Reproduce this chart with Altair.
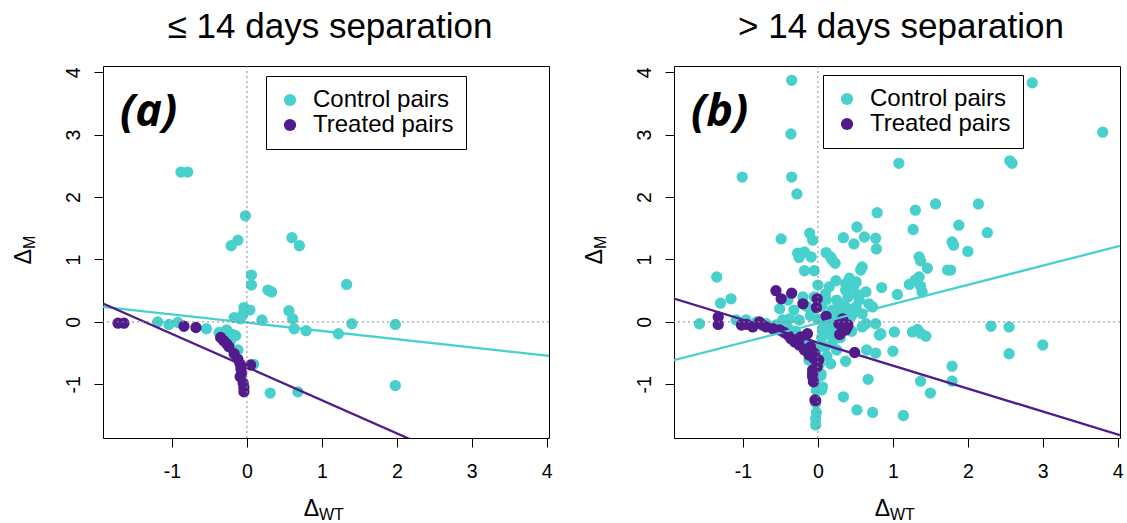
import altair as alt
import pandas as pd

# ---------------- data ----------------
SERIES = ["Control pairs", "Treated pairs"]
TITLES = ["\u2264 14 days separation", "> 14 days separation"]
TAGS = ["(a)", "(b)"]
TICKS = [-1, 0, 1, 2, 3, 4]

# panel (a)
a_ctrl_x = [-0.88, -0.79, -0.02, -0.21, -0.12, 0.60, 0.70, 0.06, 0.06, 0.28, 0.33, 1.33,
            -0.04, 0.04, -0.06, -0.17, -0.09, 0.20, 0.56, 0.61, 0.63, 0.79, 1.40, 1.22,
            1.98, 1.98, 0.31, 0.68, 0.09, -1.19, -1.04, -0.92, -0.54, -0.37, -0.27, -0.19,
            -0.26, -0.15, -0.22, -0.12]
a_ctrl_y = [2.40, 2.40, 1.70, 1.22, 1.31, 1.35, 1.22, 0.75, 0.59, 0.51, 0.48, 0.60,
            0.23, 0.19, 0.11, 0.07, 0.05, 0.03, 0.18, 0.05, -0.11, -0.14, -0.03, -0.19,
            -0.04, -1.02, -1.14, -1.12, -0.68, 0.00, -0.04, -0.01, -0.11, -0.17, -0.13, -0.20,
            -0.16, -0.22, -0.30, -0.45]
a_trt_x = [-1.72, -1.64, -0.84, -0.68, -0.35, -0.31, -0.27, -0.24, -0.17, -0.12, -0.09,
           -0.08, -0.07, -0.09, 0.05, -0.05, -0.04, -0.04]
a_trt_y = [-0.02, -0.02, -0.07, -0.09, -0.25, -0.30, -0.35, -0.40, -0.51, -0.60, -0.68,
           -0.75, -0.82, -0.88, -0.69, -0.98, -1.05, -1.12]

# panel (b)
b_ctrl_x = [-0.35, 2.86, -0.36, 3.80, -1.01, -0.35, -0.28, 1.08, 2.56, 2.59,
            -0.49, -0.11, -0.07, -1.35, -1.30, -1.16, -1.58,
            -0.27, -0.18, -0.09, -0.25, -0.18, -0.05,
            0.11, 0.17, 0.23,
            0.34, 0.48, 0.52, 0.62, 0.77, 0.78, 0.79,
            0.59, 0.57,
            0.24, 0.37, 0.51, 0.64, 0.85, 1.06,
            1.30, 1.57, 1.27, 2.14, 1.88, 2.26,
            1.35, 1.37, 1.46, 1.73, 1.77, 1.79, 1.81, 2.00,
            1.22, 1.30, 1.35, 1.37, 1.39,
            0.73, 0.77, 0.59, 0.82, 1.02,
            1.26, 1.33, 1.37, 1.44,
            2.31, 2.55, 2.55, 3.00,
            1.79, 1.79, 1.37, 1.50,
            0.65, 0.77, 1.00,
            0.37, 0.17, 0.67, 0.34, 0.52, 0.73, 1.14,
            0.05, 0.04,
            -0.03, -0.02, -0.03, -0.02, -0.03, -0.02, -0.03, -0.03,
            0.19, 0.00, 0.15, 0.37, 0.48, 0.51,
            -0.51, -0.20, -0.32, 0.11, 0.19, 0.15, 0.06, 0.15, 0.24, 0.28, 0.37, 0.51, 0.59,
            0.68, 0.64, 0.84,
            0.05, 0.10, 0.25, 0.30, 0.40, 0.45, 0.20, 0.30, 0.10, 0.25, -0.10, -0.15, 0.00,
            0.08, 0.45, 0.55, 0.42, -0.40, -0.05,
            -1.09, -0.96, -0.82, -0.69, -0.56, -0.47, -0.38, -0.25, -0.40, -0.30,
            -0.12, 0.02, -0.12, 0.02, 0.04, 0.06,
            0.12, 0.22, 0.33, 0.05, 0.18, 0.28, 0.40, 0.12]
b_ctrl_y = [3.87, 3.83, 3.01, 3.04, 2.32, 2.32, 2.05, 2.54, 2.58, 2.54,
            1.33, 1.42, 1.31, 0.72, 0.30, 0.37, -0.03,
            1.10, 1.12, 1.04, 1.03, 0.82, 0.82,
            1.11, 1.04, 0.94,
            1.35, 1.25, 1.52, 1.36, 1.34, 1.17, 1.75,
            0.88, 0.83,
            0.66, 0.61, 0.64, 0.48, 0.55, 0.44,
            1.79, 1.89, 1.48, 1.89, 1.55, 1.43,
            1.04, 0.98, 0.86, 0.83, 0.83, 1.28, 1.23, 1.13,
            0.60, 0.67, 0.72, 0.57, 0.48,
            0.24, -0.03, -0.08, -0.21, -0.16,
            -0.16, -0.12, -0.18, -0.23,
            -0.07, -0.08, -0.51, -0.37,
            -0.71, -0.95, -0.95, -1.14,
            -0.45, -0.50, -0.47,
            -0.63, -0.67, -0.92, -1.20, -1.41, -1.45, -1.50,
            -1.09, -0.86,
            -0.50, -0.70, -0.90, -1.10, -1.30, -1.45, -1.55, -1.65,
            0.99, 0.59, 0.56, 0.51, 0.59, 0.45,
            0.21, 0.40, 0.19, 0.35, 0.19, 0.03, -0.13, -0.19, -0.08, 0.08, 0.24, 0.24, 0.13,
            0.29, -0.03, -0.19,
            0.25, 0.45, 0.35, 0.20, 0.40, 0.10, -0.30, -0.25, -0.40, -0.45, 0.10, 0.25, 0.05,
            -0.05, -0.15, 0.35, 0.70, 0.35, 0.40,
            0.03, 0.03, 0.00, -0.03, -0.05, 0.03, 0.05, 0.03, -0.10, -0.15,
            -0.35, -0.40, -0.61, -0.67, -0.83, -1.04,
            0.10, -0.05, 0.15, -0.25, -0.10, 0.30, 0.20, -0.55]
b_trt_x = [-1.33, -1.33, -0.56, -0.49, -0.35, -0.20, -0.01, -0.02, 0.11, 0.28, 0.33, 0.39,
           0.29, 0.37, 0.49, -0.07, -0.06, -0.03, 0.01, 0.40,
           -1.02, -0.95, -0.87, -0.78, -0.74, -0.69, -0.60, -0.51, -0.45, -0.40, -0.36,
           -0.31, -0.25, -0.23, -0.18, -0.14, -0.12, -0.05, -0.07, -0.07, -0.01, -0.04,
           -0.10, -0.05]
b_trt_y = [0.08, -0.04, 0.50, 0.37, 0.46, 0.29, 0.37, 0.23, 0.09, -0.03, 0.05, -0.08,
           -0.20, -0.13, -0.49, -0.83, -0.96, -1.26, -0.61, -0.05,
           -0.05, -0.04, -0.08, 0.00, -0.05, -0.08, -0.11, -0.13, -0.17, -0.21, -0.27,
           -0.32, -0.37, -0.24, -0.45, -0.19, -0.53, -0.59, -0.77, -0.88, -0.72, -1.25,
           -0.40, -0.50]

# fitted lines: intercept, slope (control, treated) per panel
a_fit_int = [-0.013, -0.724]
a_fit_slope = [-0.132, -0.531]
b_fit_int = [-0.023, -0.332]
b_fit_slope = [0.308, -0.368]

# ---------------- styling ----------------
CYAN = "#48D1CC"
PURPLE = "#521B8B"
FONT = "Liberation Sans"
W, H = 446, 372
XDOM = [-1.92, 4.03]
YDOM = [-1.86, 4.10]


def panel(cx, cy, tx, ty, fit_int, fit_slope, title, tag, legx, legy):
    pts = pd.DataFrame({
        "x": cx + tx,
        "y": cy + ty,
        "grp": [SERIES[0]] * len(cx) + [SERIES[1]] * len(tx),
    })
    xs = alt.Scale(domain=XDOM, nice=False, zero=False)
    ys = alt.Scale(domain=YDOM, nice=False, zero=False)
    xax = alt.Axis(values=TICKS, title=None, grid=False, domain=False, tickSize=9,
                   tickColor="black", tickWidth=1, labelFontSize=19.5, labelFont=FONT,
                   labelColor="black", labelPadding=15, labelFlush=False,
                   labelOverlap=False, labelExpr="'' + datum.value")
    yax = alt.Axis(values=TICKS, title=None, grid=False, domain=False, tickSize=9,
                   tickColor="black", tickWidth=1, labelFontSize=19.5, labelFont=FONT,
                   labelColor="black", labelPadding=15, labelFlush=False,
                   labelOverlap=False, labelAngle=270, labelAlign="center",
                   labelBaseline="alphabetic", labelExpr="'' + datum.value")

    points = alt.Chart(pts).mark_circle(size=128, opacity=1).encode(
        x=alt.X("x:Q", scale=xs, axis=xax),
        y=alt.Y("y:Q", scale=ys, axis=yax),
        color=alt.Color("grp:N",
                        scale=alt.Scale(domain=SERIES, range=[CYAN, PURPLE]),
                        legend=alt.Legend(title=None, orient="none", legendX=legx,
                                          legendY=legy, strokeColor="black",
                                          fillColor="white", padding=12,
                                          symbolType="circle", symbolSize=150,
                                          symbolStrokeWidth=0, labelFontSize=24,
                                          labelFont=FONT, labelColor="black",
                                          labelOffset=11, rowPadding=1)),
    )

    layers = [points]
    for k, col in enumerate([CYAN, PURPLE]):
        ldf = pd.DataFrame({"x": XDOM,
                            "y": [fit_int[k] + fit_slope[k] * v for v in XDOM]})
        layers.append(alt.Chart(ldf).mark_line(clip=True, color=col, strokeWidth=2.3).encode(
            x=alt.X("x:Q", scale=xs), y=alt.Y("y:Q", scale=ys)))

    zero = pd.DataFrame({"z": [0]})
    layers.append(alt.Chart(zero).mark_rule(color="#8a8a8a", strokeDash=[2, 3], strokeWidth=1)
                  .encode(x=alt.X("z:Q", scale=xs)))
    layers.append(alt.Chart(zero).mark_rule(color="#8a8a8a", strokeDash=[2, 3], strokeWidth=1)
                  .encode(y=alt.Y("z:Q", scale=ys)))

    ann = pd.DataFrame({"title": [title], "tag": [tag], "d": ["\u0394"],
                        "wt": ["WT"], "m": ["M"]})
    layers.append(alt.Chart(ann).mark_text(font=FONT, fontSize=35, align="center",
                                           baseline="alphabetic", color="black").encode(
        x=alt.value(W / 2 + 4), y=alt.value(-28), text="title:N"))
    layers.append(alt.Chart(ann).mark_text(font="Open Sans", fontSize=45, fontWeight="bold",
                                           fontStyle="italic", align="left",
                                           baseline="alphabetic", color="black").encode(
        x=alt.value(17), y=alt.value(60), text="tag:N"))
    # x-axis title  Δ_WT
    layers.append(alt.Chart(ann).mark_text(font=FONT, fontSize=23, align="right",
                                           baseline="alphabetic", color="black").encode(
        x=alt.value(W / 2 - 7), y=alt.value(H + 78), text="d:N"))
    layers.append(alt.Chart(ann).mark_text(font=FONT, fontSize=16, align="left",
                                           baseline="alphabetic", color="black").encode(
        x=alt.value(W / 2 - 7), y=alt.value(H + 82), text="wt:N"))
    # y-axis title  Δ_M
    layers.append(alt.Chart(ann).mark_text(font=FONT, fontSize=23, align="right", angle=270,
                                           baseline="alphabetic", color="black").encode(
        x=alt.value(-72), y=alt.value(H / 2 - 3), text="d:N"))
    layers.append(alt.Chart(ann).mark_text(font=FONT, fontSize=16, align="left", angle=270,
                                           baseline="alphabetic", color="black").encode(
        x=alt.value(-68), y=alt.value(H / 2 - 3), text="m:N"))

    return alt.layer(*layers).properties(width=W, height=H)


pa = panel(a_ctrl_x, a_ctrl_y, a_trt_x, a_trt_y, a_fit_int, a_fit_slope,
           TITLES[0], TAGS[0], 163, 10)
pb = panel(b_ctrl_x, b_ctrl_y, b_trt_x, b_trt_y, b_fit_int, b_fit_slope,
           TITLES[1], TAGS[1], 149, 9)

chart = alt.hconcat(pa, pb, spacing=30).resolve_legend(color="independent").properties(
    padding={"left": 12, "top": 9, "right": 0, "bottom": 0},
    background="white",
).configure_view(stroke="black", strokeWidth=1)

chart.save("out.html", embed_options={"renderer": "svg", "actions": False})
